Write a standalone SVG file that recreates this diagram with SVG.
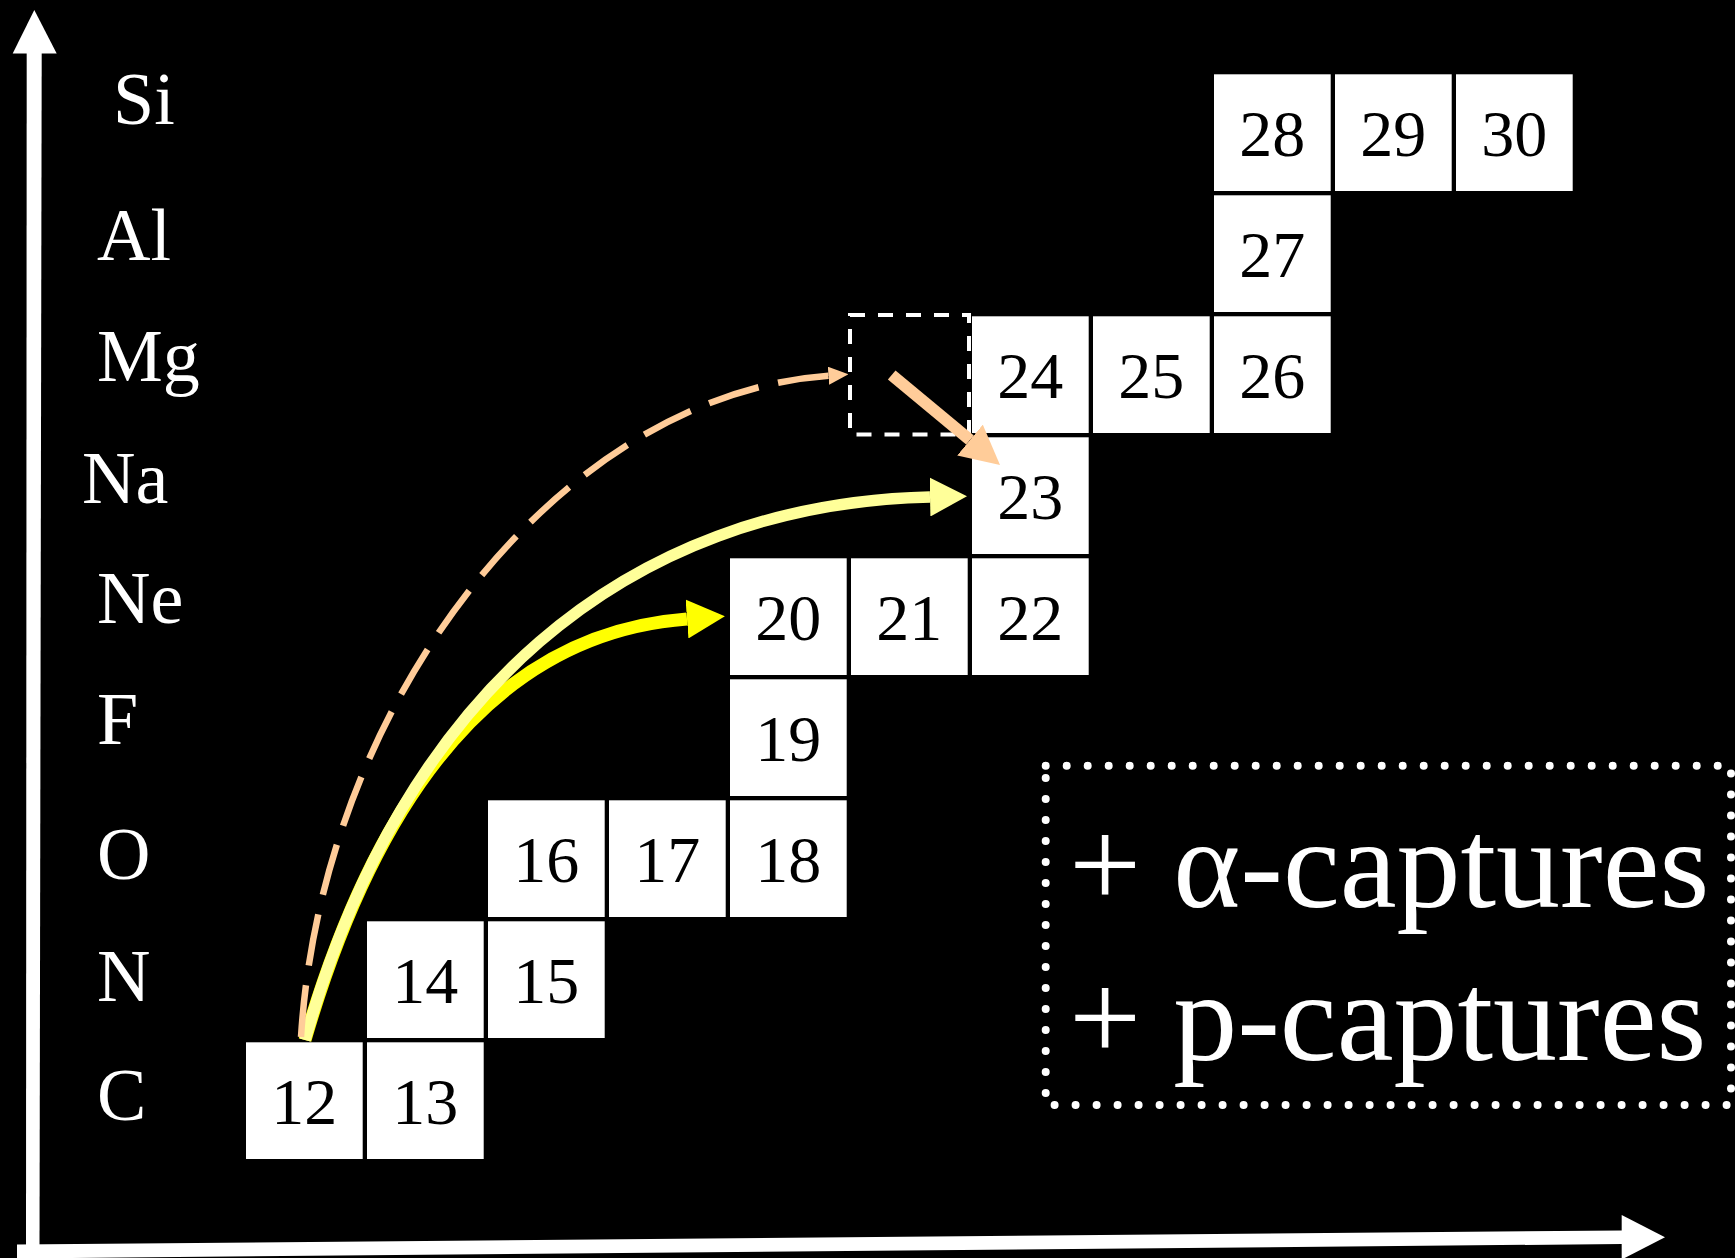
<svg xmlns="http://www.w3.org/2000/svg" width="1735" height="1258" viewBox="0 0 1735 1258">
  <style>
    .box rect { fill: #ffffff; }
    .box text { font-family: "Liberation Serif", "Times New Roman", serif; font-size: 66px; fill: #000000; text-anchor: middle; }
    .elem { font-family: "Liberation Serif", "Times New Roman", serif; font-size: 74px; fill: #ffffff; }
    .big { font-family: "Liberation Serif", "Times New Roman", serif; font-size: 128px; fill: #ffffff; }
    .axis { fill: #ffffff; }
  </style>
  <defs>
    <marker id="headPeachSmall" viewBox="0 -9 20 18" markerWidth="20" markerHeight="18" refX="0" refY="0" orient="auto" markerUnits="userSpaceOnUse">
      <path d="M0,-9 L20,0 L0,9 z" fill="#FFCC99"/>
    </marker>
    <marker id="headPeach" viewBox="0 -20 39 40" markerWidth="39" markerHeight="40" refX="0" refY="0" orient="auto" markerUnits="userSpaceOnUse">
      <path d="M0,-20 L39,0 L0,20 z" fill="#FFCC99"/>
    </marker>
    <marker id="headLightYellow" viewBox="0 -19.5 37 39" markerWidth="37" markerHeight="39" refX="0" refY="0" orient="auto" markerUnits="userSpaceOnUse">
      <path d="M0,-19.5 L37,0 L0,19.5 z" fill="#FFFF99"/>
    </marker>
    <marker id="headYellow" viewBox="0 -19.5 38 39" markerWidth="38" markerHeight="39" refX="0" refY="0" orient="auto" markerUnits="userSpaceOnUse">
      <path d="M0,-19.5 L38,0 L0,19.5 z" fill="#FFFF00"/>
    </marker>
  </defs>

  <rect x="0" y="0" width="1735" height="1258" fill="#000000"/>

  <!-- axes -->
  <g id="axes">
    <polygon class="axis" points="26.7,53 41.7,53 39.5,1250 26,1250"/>
    <polygon class="axis" points="12.7,53.5 34.3,10 56.7,53.5"/>
    <polygon class="axis" points="17,1244.5 1622,1230.5 1622,1244 17,1258.5"/>
    <polygon class="axis" points="1621.7,1215 1665,1237.3 1621.7,1259.5"/>
  </g>

  <!-- element labels -->
  <g id="element-labels">
    <text class="elem" x="113" y="124">Si</text>
    <text class="elem" x="97" y="260">Al</text>
    <text class="elem" x="97" y="381">Mg</text>
    <text class="elem" x="82" y="503">Na</text>
    <text class="elem" x="97" y="623">Ne</text>
    <text class="elem" x="97" y="744">F</text>
    <text class="elem" x="97" y="879">O</text>
    <text class="elem" x="97" y="1001">N</text>
    <text class="elem" x="97" y="1120">C</text>
  </g>

  <!-- isotope boxes -->
  <g id="n12" class="box"><rect x="246" y="1042.3" width="116.7" height="116.7"/><text x="304.35" y="1124.3">12</text></g>
  <g id="n13" class="box"><rect x="367" y="1042.3" width="116.7" height="116.7"/><text x="425.35" y="1124.3">13</text></g>
  <g id="n14" class="box"><rect x="367" y="921.3" width="116.7" height="116.7"/><text x="425.35" y="1003.3">14</text></g>
  <g id="n15" class="box"><rect x="488" y="921.3" width="116.7" height="116.7"/><text x="546.35" y="1003.3">15</text></g>
  <g id="n16" class="box"><rect x="488" y="800.3" width="116.7" height="116.7"/><text x="546.35" y="882.3">16</text></g>
  <g id="n17" class="box"><rect x="609" y="800.3" width="116.7" height="116.7"/><text x="667.35" y="882.3">17</text></g>
  <g id="n18" class="box"><rect x="730" y="800.3" width="116.7" height="116.7"/><text x="788.35" y="882.3">18</text></g>
  <g id="n19" class="box"><rect x="730" y="679.3" width="116.7" height="116.7"/><text x="788.35" y="761.3">19</text></g>
  <g id="n20" class="box"><rect x="730" y="558.3" width="116.7" height="116.7"/><text x="788.35" y="640.3">20</text></g>
  <g id="n21" class="box"><rect x="851" y="558.3" width="116.7" height="116.7"/><text x="909.35" y="640.3">21</text></g>
  <g id="n22" class="box"><rect x="972" y="558.3" width="116.7" height="116.7"/><text x="1030.35" y="640.3">22</text></g>
  <g id="n23" class="box"><rect x="972" y="437.3" width="116.7" height="116.7"/><text x="1030.35" y="519.3">23</text></g>
  <g id="n24" class="box"><rect x="972" y="316.3" width="116.7" height="116.7"/><text x="1030.35" y="398.3">24</text></g>
  <g id="n25" class="box"><rect x="1093" y="316.3" width="116.7" height="116.7"/><text x="1151.35" y="398.3">25</text></g>
  <g id="n26" class="box"><rect x="1214" y="316.3" width="116.7" height="116.7"/><text x="1272.35" y="398.3">26</text></g>
  <g id="n27" class="box"><rect x="1214" y="195.3" width="116.7" height="116.7"/><text x="1272.35" y="277.3">27</text></g>
  <g id="n28" class="box"><rect x="1214" y="74.3" width="116.7" height="116.7"/><text x="1272.35" y="156.3">28</text></g>
  <g id="n29" class="box"><rect x="1335" y="74.3" width="116.7" height="116.7"/><text x="1393.35" y="156.3">29</text></g>
  <g id="n30" class="box"><rect x="1456" y="74.3" width="116.7" height="116.7"/><text x="1514.35" y="156.3">30</text></g>

  <!-- empty dashed slot (Mg-23) -->
  <g id="n_mg23">
    <rect x="850" y="315" width="119" height="119.5" fill="none" stroke="#ffffff" stroke-width="4" stroke-dasharray="15 13"/>
  </g>

  <!-- legend -->
  <g id="legend">
    <rect x="1045.7" y="765.7" width="685.3" height="339.3" fill="none" stroke="#ffffff" stroke-width="8" stroke-linecap="round" stroke-dasharray="0 21"/>
    <text class="big" x="1069" y="906.7">+ α-captures</text>
    <text class="big" x="1069" y="1060">+ p-captures</text>
  </g>

  <!-- connectors -->
  <g id="connectors" fill="none">
    <path id="c12_20" d="M305,1040 C383,772 510,632 687,619" stroke="#FFFF00" stroke-width="13" marker-end="url(#headYellow)"/>
    <path id="c12_23" d="M305,1040 C402,695 625,504 930,497" stroke="#FFFF99" stroke-width="11.5" marker-end="url(#headLightYellow)"/>
    <path id="c12_mg23" d="M301,1037 C322,700 560,395 828.5,375.7" stroke="#FFCC99" stroke-width="6.5" stroke-dasharray="52 20" marker-end="url(#headPeachSmall)"/>
    <path id="cmg23_23" d="M891.7,375 L970,440" stroke="#FFCC99" stroke-width="12" marker-end="url(#headPeach)"/>
  </g>
</svg>
